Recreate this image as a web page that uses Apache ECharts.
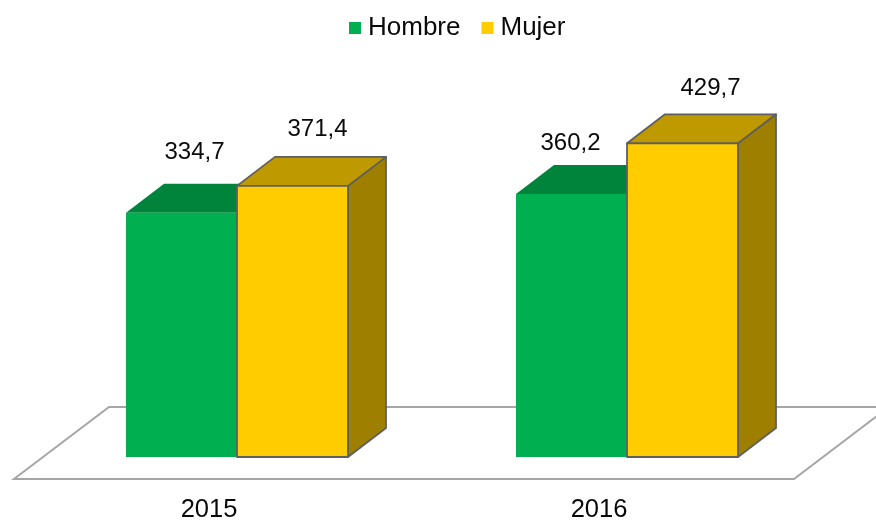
<!DOCTYPE html>
<html>
<head>
<meta charset="utf-8">
<style>
  html, body { margin: 0; padding: 0; background: #fff; }
  #chart { width: 876px; height: 520px; }
</style>
</head>
<body>
<div id="chart"></div>
<script src="https://cdn.jsdelivr.net/npm/echarts@6/dist/echarts.min.js"></script>
<script>
const years = ['2015', '2016']
const hombre = [334.7, 360.2]
const mujer = [371.4, 429.7]

// the labels were placed by hand in the original, so each has its own offset from the bar's top centre
const hombreLabelShift = [[13, -60], [-1, -51]]
const mujerLabelShift = [[25, -57], [28, -55]]

const FONT = '"Liberation Sans", Arial, sans-serif'
const DEPTH_X = 38
const DEPTH_Y = 29
const BAR_RATIO = 0.2846

const makeBar = (colors, side, labelShift) => (params, api) => {
  const idx = api.value(0)
  const val = api.value(1)
  const top = api.coord([idx, val])
  const base = api.coord([idx, 0])
  const w = api.size([1, 0])[0] * BAR_RATIO
  const x0 = side < 0 ? top[0] - w : top[0]
  const x1 = x0 + w
  const y0 = top[1]
  const y1 = base[1]
  const line = colors.line ? { stroke: colors.line, lineWidth: 1.8, lineJoin: 'round' } : { stroke: null }
  const shift = labelShift[idx]
  return {
    type: 'group',
    children: [
      {
        type: 'polygon',
        shape: { points: [[x1, y0], [x1 + DEPTH_X, y0 - DEPTH_Y], [x1 + DEPTH_X, y1 - DEPTH_Y], [x1, y1]] },
        style: { fill: colors.side, ...line }
      },
      {
        type: 'polygon',
        shape: { points: [[x0, y0], [x0 + DEPTH_X, y0 - DEPTH_Y], [x1 + DEPTH_X, y0 - DEPTH_Y], [x1, y0]] },
        style: { fill: colors.top, ...line }
      },
      {
        type: 'rect',
        shape: { x: x0, y: y0, width: w, height: y1 - y0 },
        style: { fill: colors.front, ...line }
      },
      {
        type: 'text',
        x: (x0 + x1) / 2 + shift[0],
        y: y0 + shift[1],
        style: {
          text: val.toFixed(1).replace('.', ','),
          fontSize: 24,
          fontFamily: FONT,
          fill: '#0a0a0a',
          align: 'center',
          verticalAlign: 'middle'
        }
      }
    ]
  }
}

const renderFloor = (params) => {
  const c = params.coordSys
  const yb = c.y + c.height
  const left = c.x - 28
  const right = c.x + c.width - 28
  return {
    type: 'polygon',
    shape: { points: [[left, yb + 22], [left + 95, yb - 50], [right + 95, yb - 50], [right, yb + 22]] },
    style: { fill: '#fff', stroke: '#a6a6a6', lineWidth: 2 }
  }
}

const chart = echarts.init(document.getElementById('chart'))
chart.setOption({
  animation: false,
  backgroundColor: '#fff',
  legend: {
    data: ['Hombre', 'Mujer'],
    left: 344,
    top: 10,
    icon: 'rect',
    itemWidth: 12,
    itemHeight: 12,
    itemGap: 21,
    textStyle: { fontSize: 26, fontFamily: FONT, color: '#0a0a0a', padding: [0, 0, 0, 2] }
  },
  grid: { left: 42, right: 54, top: 92, bottom: 63, outerBoundsMode: 'none' },
  xAxis: {
    type: 'category',
    data: years,
    axisLine: { show: false },
    axisTick: { show: false },
    // labels sit under the front edge of the floor, left of the band centre
    axisLabel: { margin: 40, fontSize: 25.5, fontFamily: FONT, color: '#0a0a0a', padding: [0, 56, 0, 0] }
  },
  yAxis: { type: 'value', min: 0, max: 500, show: false },
  series: [
    {
      name: 'suelo',
      type: 'custom',
      silent: true,
      clip: false,
      z: 1,
      renderItem: renderFloor,
      data: [[0, 0]]
    },
    {
      name: 'Hombre',
      type: 'custom',
      z: 2,
      clip: false,
      itemStyle: { color: '#00b050' },
      encode: { x: 0, y: 1 },
      renderItem: makeBar({ front: '#00b050', top: '#00843c', side: '#00843c' }, -1, hombreLabelShift),
      data: hombre.map((v, i) => [i, v])
    },
    {
      name: 'Mujer',
      type: 'custom',
      z: 3,
      clip: false,
      itemStyle: { color: '#ffcc00' },
      encode: { x: 0, y: 1 },
      renderItem: makeBar({ front: '#ffcc00', top: '#bf9900', side: '#9f7f00', line: '#5f5f5f' }, 1, mujerLabelShift),
      data: mujer.map((v, i) => [i, v])
    }
  ]
})
</script>
</body>
</html>
